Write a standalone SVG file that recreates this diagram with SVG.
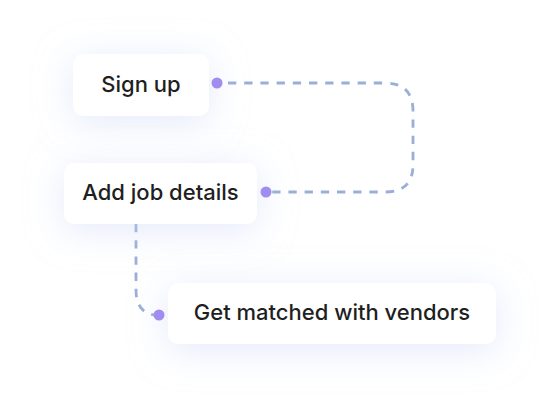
<svg xmlns="http://www.w3.org/2000/svg" width="560" height="400" viewBox="0 0 560 400">
<defs>
<filter id="glow" x="-50%" y="-100%" width="200%" height="300%">
<feDropShadow dx="0" dy="6" stdDeviation="18" flood-color="#c9d4f7" flood-opacity="0.5"/>
</filter>
<style>
.box{fill:#ffffff;filter:url(#glow)}
.lbl{font-family:Inter,"Liberation Sans",sans-serif;font-size:22px;font-weight:550;fill:#1f1f1f;text-anchor:middle}
.dash{fill:none;stroke:#9aaed9;stroke-width:2.8;stroke-dasharray:8.3 7.9}
.dot{fill:#a18df0}
</style>
</defs>
<rect width="560" height="400" fill="#ffffff"/>
<g id="connectors">
<path class="dash" d="M228 83 H385 Q413 83 413 111 V165 Q413 192 385 192 H272"/>
<path class="dash" d="M136 224 V290 Q136 312 154 315"/>
</g>
<g id="node-signup">
<rect class="box" x="73" y="54" width="136" height="62" rx="10"/>
<text class="lbl" x="141" y="92">Sign up</text>
<circle class="dot" cx="217" cy="83" r="5.5"/>
</g>
<g id="node-addjob">
<rect class="box" x="64" y="163" width="193" height="61" rx="10"/>
<text class="lbl" x="160.5" y="200">Add job details</text>
<circle class="dot" cx="266" cy="192" r="5.5"/>
</g>
<g id="node-matched">
<rect class="box" x="168" y="283" width="328" height="61" rx="10"/>
<text class="lbl" x="332" y="320">Get matched with vendors</text>
<circle class="dot" cx="159" cy="315" r="5.5"/>
</g>
</svg>
